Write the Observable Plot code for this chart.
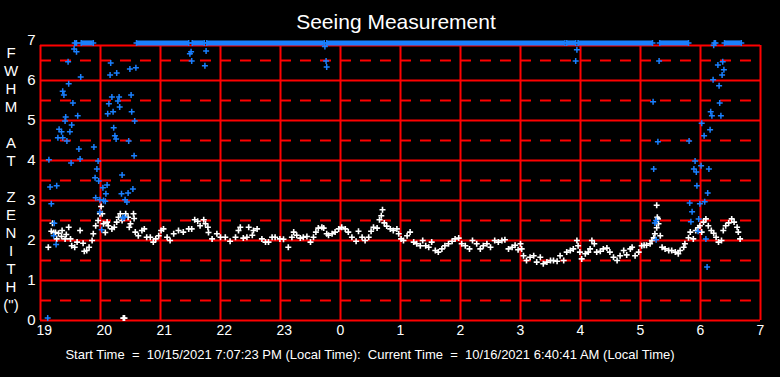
<!DOCTYPE html>
<html>
<head>
<meta charset="utf-8">
<script src="https://cdn.jsdelivr.net/npm/d3@7"></script>
<script src="https://cdn.jsdelivr.net/npm/@observablehq/plot@0.6"></script>
<style>
  html, body { margin: 0; padding: 0; background: #000; }
  #wrap { position: relative; width: 780px; height: 377px; overflow: hidden; background: #000; font-family: "Liberation Sans", Arial, sans-serif; color: #fff; }
  #title { position: absolute; top: 11px; left: 396px; transform: translateX(-50%); font-size: 21px; line-height: 21px; white-space: nowrap; }
  #ylab { position: absolute; top: 44px; left: 1px; width: 20px; text-align: center; font-size: 15px; line-height: 18px; white-space: pre; }
  #caption { position: absolute; top: 347px; left: 370px; transform: translateX(-50%); font-size: 13px; line-height: 15px; white-space: pre; }
  #chart { position: absolute; top: 0; left: 0; }
</style>
</head>
<body>
<div id="wrap">
  <div id="chart"></div>
  <div id="title"></div>
  <div id="ylab"></div>
  <div id="caption"></div>
</div>
<script>
// ---- text ----
const titleText = "Seeing Measurement";
const yLabelLetters = ["F","W","H","M"," ","A","T"," ","Z","E","N","I","T","H","(\")"];
const captionText = "Start Time  =  10/15/2021 7:07:23 PM (Local Time):  Current Time  =  10/16/2021 6:40:41 AM (Local Time)";

// ---- axes (hours past 19:00 continue beyond 24) ----
const xTickValues = [19, 20, 21, 22, 23, 24, 25, 26, 27, 28, 29, 30, 31];
const xTickLabels = ["19", "20", "21", "22", "23", "0", "1", "2", "3", "4", "5", "6", "7"];
const yTickValues = [0, 1, 2, 3, 4, 5, 6, 7];
const ySolidGrid = [0, 1, 2, 3, 4, 5, 6];
const yDashedGrid = [0.5, 1.5, 2.5, 3.5, 4.5, 5.5, 6.5];
const frameTop = 6.875;

// ---- white series (FWHM, arcsec) ----
const whiteHour = [19.13,19.18,19.2,19.22,19.25,19.27,19.3,19.35,19.36,19.41,19.43,19.47,19.5,19.52,19.57,19.61,19.66,19.71,19.73,19.77,19.81,19.86,19.88,19.92,19.96,19.99,20.01,20.03,20.05,20.08,20.11,20.13,20.19,20.23,20.27,20.3,20.33,20.36,20.38,20.4,20.42,20.46,20.48,20.5,20.55,20.56,20.58,20.63,20.69,20.73,20.77,20.83,20.88,20.92,20.97,21.01,
21.05,21.11,21.16,21.22,21.3,21.38,21.47,21.52,21.57,21.62,21.66,21.72,21.75,21.79,21.8,21.86,21.94,22.0,22.08,22.16,22.25,22.3,22.33,22.38,22.44,22.47,22.53,22.55,22.61,22.69,22.75,22.8,22.86,22.91,22.99,
23.05,23.13,23.19,23.22,23.27,23.33,23.38,23.44,23.5,23.55,23.59,23.63,23.69,23.72,23.77,23.8,23.86,23.91,23.97,24.02,24.08,24.13,24.19,24.26,24.3,24.36,24.41,24.47,24.51,24.55,24.61,24.65,24.68,24.7,24.73,24.77,24.83,24.88,24.94,24.97,25.01,
25.05,25.11,25.16,25.22,25.27,25.33,25.37,25.42,25.47,25.52,25.58,25.63,25.69,25.74,25.8,25.86,25.91,25.97,26.02,26.08,26.15,26.2,26.27,26.33,26.38,26.44,26.5,26.57,26.63,26.69,26.74,26.8,26.86,26.91,26.96,
27.0,27.02,27.05,27.1,27.16,27.22,27.27,27.33,27.38,27.44,27.5,27.55,27.61,27.66,27.72,27.77,27.83,27.88,27.94,27.96,27.99,28.02,28.08,28.13,28.16,28.19,28.23,28.27,28.33,28.38,28.44,28.49,28.55,28.61,28.66,28.72,28.77,28.83,28.86,28.91,28.97,29.02,
29.06,29.1,29.16,29.19,29.22,29.24,29.27,29.27,29.28,29.29,29.3,29.33,29.36,29.41,29.47,29.52,29.58,29.63,29.66,29.72,29.74,29.8,29.83,29.88,29.92,29.96,29.99,30.02,30.05,30.09,30.13,30.18,30.22,30.26,30.3,30.35,30.38,30.42,30.47,30.52,30.56,30.61,30.63,30.66];
const whiteFwhm = [1.83,2.23,2.43,2.2,2.2,2.04,2.18,2.1,2.25,2.04,2.15,2.33,2.04,1.87,1.83,1.96,2.25,1.93,1.73,1.75,1.83,2.0,2.17,2.37,2.5,2.67,2.85,2.67,2.42,2.2,2.46,2.37,2.29,2.33,2.46,2.58,2.67,2.5,0.06,0.06,2.67,2.58,2.33,2.42,2.67,2.55,2.21,2.12,2.25,2.29,2.08,2.08,1.96,2.04,2.12,2.25,
2.29,2.08,2.0,2.17,2.25,2.21,2.29,2.29,2.52,2.48,2.37,2.52,2.42,2.33,2.2,2.04,2.17,2.08,2.08,1.98,2.08,2.25,2.33,2.06,2.08,2.33,2.13,2.25,2.29,2.04,1.96,1.96,2.08,2.08,2.04,
2.03,1.83,2.08,2.21,2.13,2.06,2.08,2.1,1.96,2.08,2.21,2.31,2.33,2.31,2.17,2.13,2.17,2.21,2.29,2.33,2.29,2.21,2.08,1.98,2.23,2.08,2.0,2.08,2.23,2.33,2.31,2.52,2.62,2.77,2.44,2.36,2.29,2.25,2.29,2.17,2.04,
2.0,2.12,2.21,1.96,1.92,1.87,2.0,1.87,1.83,1.96,1.75,1.71,1.79,1.87,1.92,1.98,2.04,2.06,1.92,1.87,1.79,2.0,1.92,1.79,1.87,1.92,1.83,2.0,1.96,2.0,2.02,1.79,1.83,1.88,1.77,
1.92,1.79,1.62,1.5,1.58,1.62,1.46,1.58,1.42,1.46,1.5,1.5,1.48,1.62,1.5,1.71,1.75,1.79,2.0,1.87,1.71,1.54,1.67,1.71,1.79,2.0,1.92,1.71,1.73,1.79,1.81,1.71,1.58,1.5,1.62,1.75,1.64,1.79,1.83,1.62,1.71,1.87,
1.88,1.88,1.92,2.0,2.07,2.17,2.32,2.88,2.58,2.54,2.42,2.12,1.83,1.79,1.75,1.75,1.71,1.67,1.75,1.83,1.92,2.07,2.21,2.04,2.25,2.32,2.37,2.21,2.46,2.54,2.37,2.25,2.18,2.08,1.96,2.0,2.25,2.37,2.44,2.54,2.46,2.33,2.21,2.04];

// ---- blue series (individual readings below the 7" ceiling) ----
const blueHour = [19.56,19.6,19.46,19.67,19.47,19.37,19.39,19.54,19.42,19.62,19.41,19.52,19.31,19.35,19.49,19.29,19.37,19.44,19.64,19.89,19.14,19.51,19.66,19.96,19.94,19.91,19.97,19.16,19.27,20.04,20.11,20.54,20.36,20.56,20.47,
20.17,20.16,20.27,20.49,20.59,20.19,20.31,20.51,20.14,20.29,20.32,20.52,20.12,20.21,20.57,20.22,20.24,20.26,21.49,21.51,21.52,21.76,21.74,
19.18,19.23,19.22,19.26,20.09,19.92,19.99,20.05,20.08,19.99,20.02,20.35,20.46,20.41,20.44,20.4,20.37,19.12,
23.74,23.76,23.77,27.94,27.92,
29.31,29.21,29.29,29.81,29.22,29.91,29.89,29.93,30.01,30.14,29.94,30.22,30.37,30.29,30.39,30.36,30.21,30.31,30.32,30.17,30.19,30.34,30.02,30.16,30.06,
30.12,29.82,29.99,30.07,29.86,29.84,29.97,29.24,29.26,29.96,29.26,30.09,30.11];
const blueFwhm = [6.79,6.72,6.47,6.09,5.92,5.73,5.64,5.44,5.09,5.12,4.99,4.89,4.78,4.72,4.72,4.57,4.57,4.49,4.29,4.34,4.02,3.94,4.04,3.99,3.79,3.57,3.49,3.34,3.37,3.32,3.39,3.29,3.64,4.12,4.49,
6.44,6.14,6.19,6.29,6.32,5.59,5.59,5.64,5.42,5.49,5.34,5.22,5.17,5.22,4.99,4.82,4.62,4.54,6.67,6.72,6.49,6.74,6.37,
2.92,2.43,2.12,1.9,3.17,3.07,3.02,3.0,2.98,2.71,2.27,3.17,3.19,3.02,2.96,2.58,2.56,0.06,
6.85,6.49,6.34,6.77,6.49,
6.49,5.47,4.47,4.49,3.79,3.99,3.79,3.71,3.87,3.79,3.37,6.88,6.47,6.39,6.27,6.14,6.02,5.87,5.44,5.22,5.12,5.12,4.93,4.77,4.62,
3.19,2.94,2.92,2.97,2.72,2.47,2.54,2.44,2.5,2.23,2.02,2.04,1.34];

// ---- blue readings off the top of the scale (pinned at the ceiling), as time spans ----
const offScaleStart = [19.57, 19.68, 20.6, 21.53, 21.77, 23.77, 27.77, 27.96, 29.32, 30.23, 30.4];
const offScaleEnd   = [19.6, 19.88, 21.47, 21.73, 23.73, 27.74, 27.92, 29.2, 29.8, 30.25, 30.68];
const ceiling = 6.94;

// ---- build ----
const white = whiteHour.map((h, i) => ({hour: h, fwhm: whiteFwhm[i]}));
const blue = blueHour.map((h, i) => ({hour: h, fwhm: blueFwhm[i]}));
const offScale = offScaleStart.map((s, i) => ({start: s, end: offScaleEnd[i]}));
const offScaleEnds = offScale.flatMap(d => [d.start, d.end]);

const plusSymbol = {
  draw(ctx, size) {
    const r = Math.sqrt(size / Math.PI);
    ctx.moveTo(-r, 0); ctx.lineTo(r, 0);
    ctx.moveTo(0, -r); ctx.lineTo(0, r);
  }
};

const RED = "#ff0000";
const BLUE = "#1a80ff";
const WHITE = "#ffffff";

const chart = Plot.plot({
  width: 780,
  height: 377,
  marginLeft: 40,
  marginRight: 20,
  marginTop: 40,
  marginBottom: 57,
  style: {background: "#000", fontFamily: "'Liberation Sans', Arial, sans-serif"},
  x: {domain: [19, 31], axis: null},
  y: {domain: [0, 7], axis: null},
  marks: [
    Plot.ruleY(ySolidGrid, {x1: 19, x2: 31, stroke: RED, strokeWidth: 2}),
    Plot.ruleY([frameTop], {x1: 19, x2: 31, stroke: RED, strokeWidth: 2}),
    Plot.ruleY(yDashedGrid, {x1: 19, x2: 31, stroke: RED, strokeWidth: 2, strokeDasharray: "11,9"}),
    Plot.ruleX(xTickValues, {y1: 0, y2: frameTop, stroke: RED, strokeWidth: 2}),
    Plot.dot(white, {x: "hour", y: "fwhm", symbol: plusSymbol, r: 3, stroke: WHITE, fill: "none", strokeWidth: 1.6}),
    Plot.ruleY(offScale, {x1: "start", x2: "end", y: () => ceiling, stroke: BLUE, strokeWidth: 5}),
    Plot.dot(offScaleEnds, {x: d => d, y: () => ceiling, symbol: plusSymbol, r: 3, stroke: BLUE, fill: "none", strokeWidth: 1.5}),
    Plot.dot(blue, {x: "hour", y: "fwhm", symbol: plusSymbol, r: 3, stroke: BLUE, fill: "none", strokeWidth: 1.5}),
    Plot.text(yTickValues, {y: d => d, frameAnchor: "left", dx: -5, textAnchor: "end", lineAnchor: "middle", text: d => String(d), fill: WHITE, fontSize: 15}),
    Plot.text(xTickValues, {x: d => d, frameAnchor: "bottom", dx: -4, dy: 10, textAnchor: "start", lineAnchor: "middle", text: (d, i) => xTickLabels[i], fill: WHITE, fontSize: 14})
  ]
});
document.getElementById("chart").appendChild(chart);
document.getElementById("title").textContent = titleText;
document.getElementById("ylab").textContent = yLabelLetters.join("\n");
document.getElementById("caption").textContent = captionText;
</script>
</body>
</html>
